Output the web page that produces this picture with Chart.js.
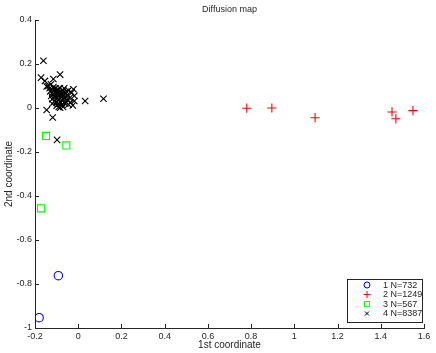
<!DOCTYPE html>
<html><head><meta charset="utf-8">
<script src="https://cdn.jsdelivr.net/npm/chart.js@4/dist/chart.umd.min.js"></script>
<style>html,body{margin:0;padding:0;background:#fff}canvas{display:block}</style>
</head><body>
<canvas id="c" width="436" height="353"></canvas>
<script>
const chartTitle = 'Diffusion map';
const xLabel = '1st coordinate';
const yLabel = '2nd coordinate';
const xTicks = [-0.2, 0, 0.2, 0.4, 0.6, 0.8, 1, 1.2, 1.4, 1.6];
const yTicks = [-1, -0.8, -0.6, -0.4, -0.2, 0, 0.2, 0.4];
const seriesNames = ['1 N=732', '2 N=1249', '3 N=567', '4 N=8387'];

const c1x = [-0.181, -0.092];
const c1y = [-0.953, -0.762];

const c2x = [0.780, 0.896, 1.096, 1.452, 1.470, 1.549];
const c2y = [-0.001, 0.000, -0.044, -0.018, -0.049, -0.012];

const c3x = [-0.149, -0.055, -0.172];
const c3y = [-0.127, -0.170, -0.456];

const c4x = [-0.161, -0.172, -0.154, -0.115, -0.084, -0.138, -0.146, -0.126, -0.132,
  -0.022, -0.018, -0.018, 0.032, 0.117, -0.146, -0.084, -0.045, -0.118, -0.098,
  -0.030, -0.040, -0.060, -0.070, -0.035, -0.025, -0.050, -0.045,
  -0.120, -0.115, -0.110, -0.105, -0.100, -0.100, -0.095, -0.090, -0.090, -0.085,
  -0.080, -0.080, -0.075, -0.075, -0.070, -0.070, -0.065, -0.060, -0.060, -0.055,
  -0.110, -0.120, -0.125, -0.100, -0.090, -0.080, -0.105, -0.095, -0.115, -0.130,
  -0.085, -0.065, -0.055, -0.050, -0.110, -0.120, -0.100, -0.090, -0.075];
const c4y = [0.215, 0.138, 0.123, 0.132, 0.152, 0.100, 0.098, 0.108, 0.090,
  0.085, 0.055, 0.032, 0.032, 0.042, -0.009, 0.001, 0.016, -0.043, -0.145,
  0.070, 0.045, 0.020, 0.005, 0.025, 0.012, 0.060, 0.080,
  0.070, 0.060, 0.050, 0.075, 0.065, 0.045, 0.055, 0.070, 0.040, 0.060,
  0.050, 0.075, 0.065, 0.035, 0.055, 0.080, 0.045, 0.065, 0.030, 0.050,
  0.085, 0.040, 0.055, 0.025, 0.020, 0.025, 0.090, 0.085, 0.095, 0.075,
  0.090, 0.090, 0.075, 0.035, 0.030, 0.020, 0.010, 0.005, 0.015];

const colors = ['#0000ff', '#ff0000', '#00ff00', '#000000'];
const FONT = '"Liberation Sans", Arial, sans-serif';
const TXT = '#262626';

function pts(xs, ys) { return xs.map((x, i) => ({x: x, y: ys[i]})); }

const datasets = [
  {label: seriesNames[0], data: pts(c1x, c1y), pointStyle: 'circle', pointRadius: 4.2, borderColor: colors[0], backgroundColor: 'rgba(0,0,0,0)', borderWidth: 1.1},
  {label: seriesNames[1], data: pts(c2x, c2y), pointStyle: 'cross', pointRadius: 4.6, borderColor: colors[1], backgroundColor: colors[1], borderWidth: 1.1},
  {label: seriesNames[2], data: pts(c3x, c3y), pointStyle: 'rect', pointRadius: 5, borderColor: colors[2], backgroundColor: 'rgba(0,0,0,0)', borderWidth: 1.1},
  {label: seriesNames[3], data: pts(c4x, c4y), pointStyle: 'crossRot', pointRadius: 4.5, borderColor: colors[3], backgroundColor: colors[3], borderWidth: 1.1}
];
datasets.forEach(d => { d.showLine = false; d.pointHoverRadius = d.pointRadius; });

function drawMarker(ctx, style, x, y, s, color) {
  ctx.save();
  ctx.strokeStyle = color; ctx.lineWidth = 1;
  ctx.beginPath();
  if (style === 'circle') { ctx.arc(x, y, s, 0, Math.PI * 2); }
  else if (style === 'cross') { ctx.moveTo(x - s, y); ctx.lineTo(x + s, y); ctx.moveTo(x, y - s); ctx.lineTo(x, y + s); }
  else if (style === 'rect') { ctx.rect(x - s, y - s, 2 * s, 2 * s); }
  else { ctx.moveTo(x - s, y - s); ctx.lineTo(x + s, y + s); ctx.moveTo(x + s, y - s); ctx.lineTo(x - s, y + s); }
  ctx.stroke();
  ctx.restore();
}

const decor = {
  id: 'decor',
  afterDraw(chart) {
    const ctx = chart.ctx, a = chart.chartArea;
    const xs = chart.scales.x, ys = chart.scales.y;
    ctx.save();
    // inward tick marks
    ctx.strokeStyle = TXT; ctx.lineWidth = 1;
    ctx.beginPath();
    xTicks.forEach(v => { const px = Math.round(xs.getPixelForValue(v)) + 0.5; ctx.moveTo(px, a.bottom); ctx.lineTo(px, a.bottom - 4); });
    yTicks.forEach(v => { const py = Math.round(ys.getPixelForValue(v)) + 0.5; ctx.moveTo(a.left, py); ctx.lineTo(a.left + 4, py); });
    ctx.stroke();
    // title and axis labels
    ctx.fillStyle = TXT;
    ctx.textAlign = 'center'; ctx.textBaseline = 'middle';
    ctx.font = '9px ' + FONT;
    ctx.fillText(chartTitle, (a.left + a.right) / 2, 10);
    ctx.font = '10px ' + FONT;
    ctx.fillText(xLabel, (a.left + a.right) / 2, 345);
    ctx.save();
    ctx.translate(9, (a.top + a.bottom) / 2);
    ctx.rotate(-Math.PI / 2);
    ctx.fillText(yLabel, 0, 0);
    ctx.restore();
    // legend
    ctx.font = '9px ' + FONT;
    const lx = 347.5, ly = 279.5, lw = 75, lh = 43;
    ctx.fillStyle = '#fff';
    ctx.fillRect(lx, ly, lw, lh);
    ctx.strokeStyle = TXT; ctx.lineWidth = 1;
    ctx.strokeRect(lx, ly, lw, lh);
    const styles = ['circle', 'cross', 'rect', 'crossRot'];
    const sizes = [3, 3.5, 2.5, 2];
    const rows = [285, 294.5, 304, 313.5];
    ctx.textAlign = 'left';
    seriesNames.forEach((n, i) => {
      drawMarker(ctx, styles[i], 367, rows[i], sizes[i], colors[i]);
      ctx.fillStyle = TXT;
      ctx.fillText(n, 383, rows[i] + 0.5);
    });
    ctx.restore();
  }
};

new Chart(document.getElementById('c'), {
  type: 'scatter',
  data: {datasets: datasets},
  options: {
    responsive: false,
    animation: false,
    devicePixelRatio: 1,
    layout: {padding: {top: 20, right: 12, left: 0, bottom: 0}},
    plugins: {legend: {display: false}, title: {display: false}, tooltip: {enabled: false}},
    scales: {
      x: {
        type: 'linear', min: -0.2, max: 1.6,
        afterBuildTicks: s => { s.ticks = xTicks.map(v => ({value: v})); },
        afterFit: s => { s.height = 25; },
        grid: {display: true, drawOnChartArea: false, drawTicks: false},
        border: {display: true, color: TXT, width: 1},
        ticks: {padding: 3, color: TXT, font: {family: FONT, size: 9}, maxRotation: 0, autoSkip: false,
          callback: v => String(Math.round(v * 10) / 10)}
      },
      y: {
        type: 'linear', min: -1, max: 0.4,
        afterBuildTicks: s => { s.ticks = yTicks.map(v => ({value: v})); },
        afterFit: s => { s.width = 35; },
        grid: {display: true, drawOnChartArea: false, drawTicks: false},
        border: {display: true, color: TXT, width: 1},
        ticks: {padding: 3, color: TXT, font: {family: FONT, size: 9}, autoSkip: false,
          callback: v => String(Math.round(v * 10) / 10)}
      }
    }
  },
  plugins: [decor]
});
</script>
</body></html>
